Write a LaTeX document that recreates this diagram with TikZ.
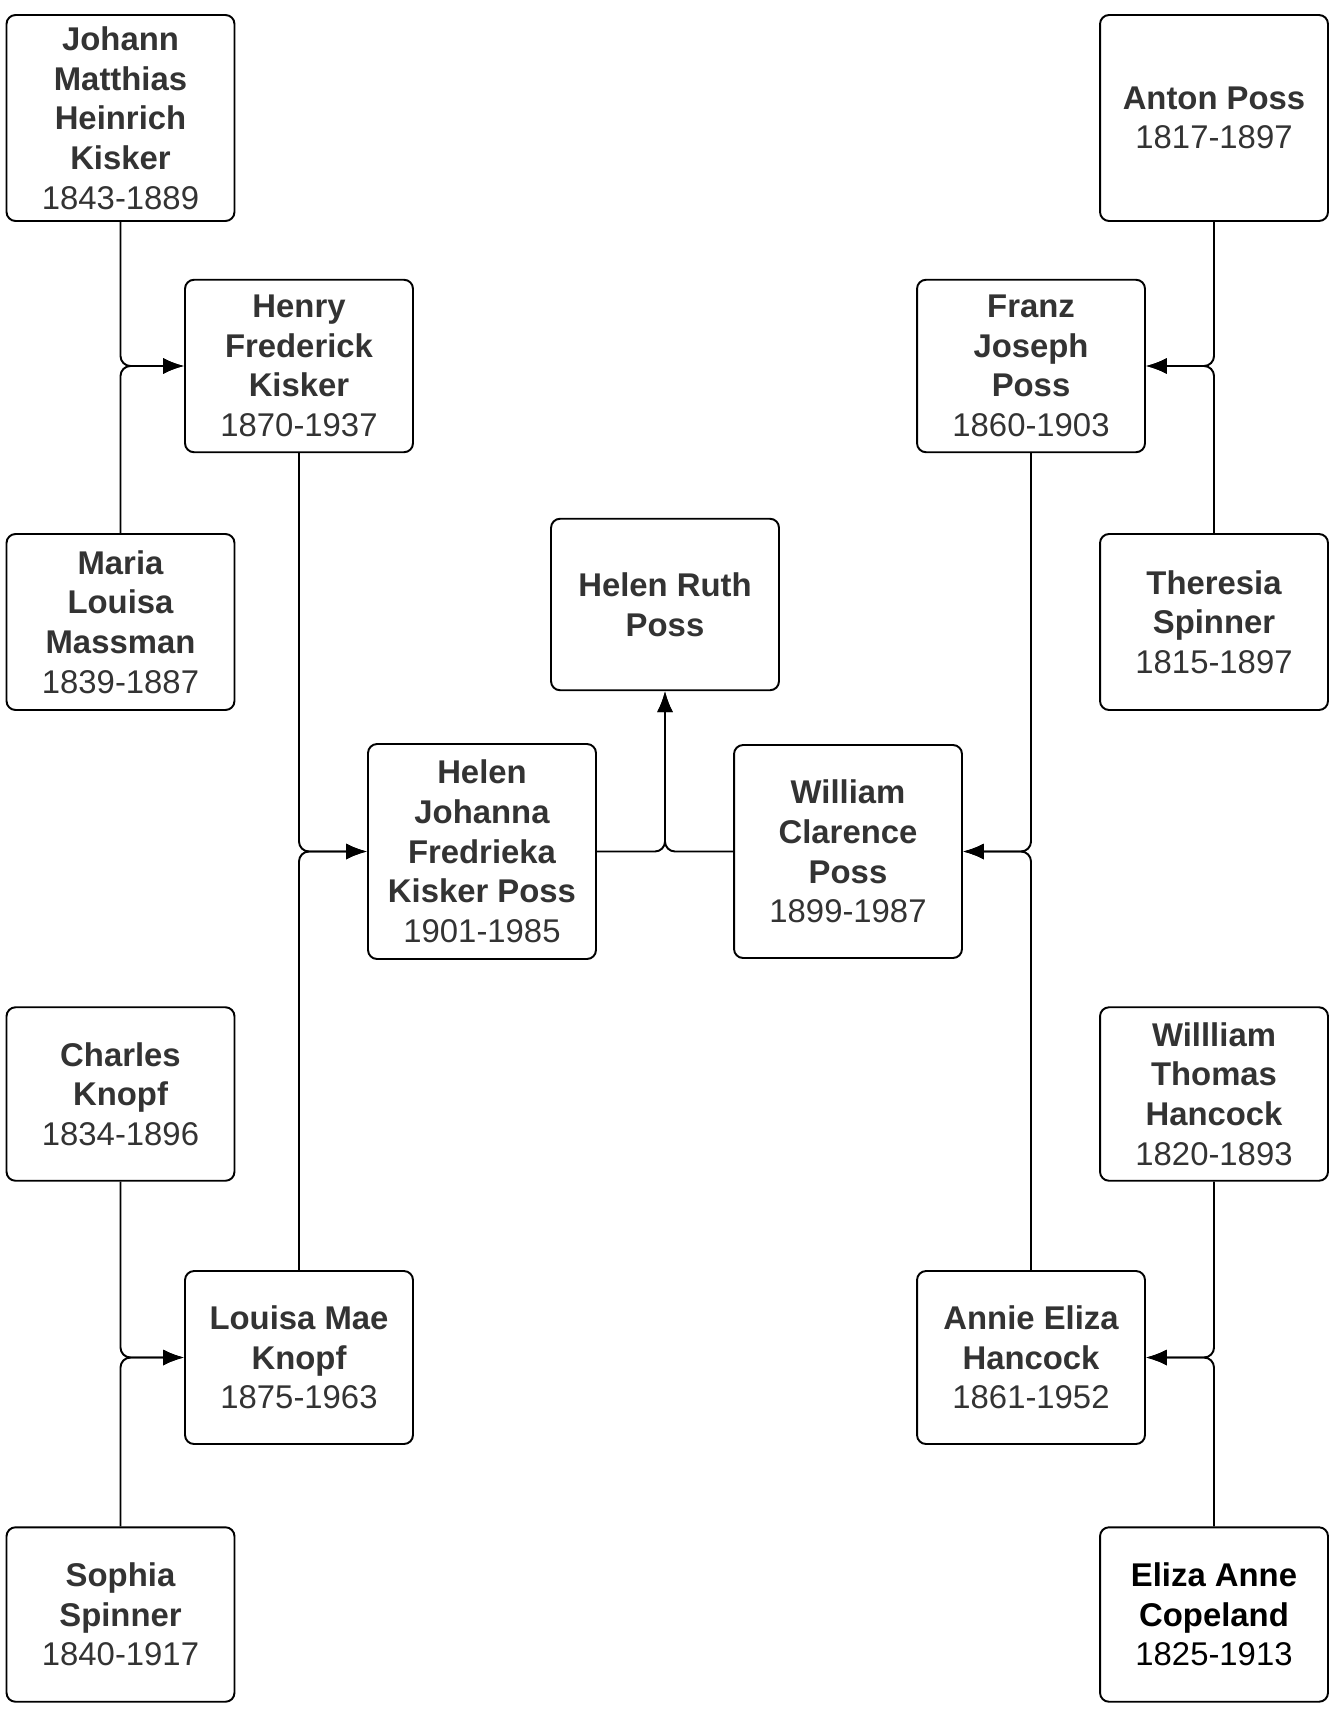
\documentclass[tikz,border=0pt]{standalone}
\usepackage{fontspec}
\setmainfont{Liberation Sans}
\usepackage{tikz}
\usetikzlibrary{arrows.meta}

\newcommand{\yrs}[1]{\\{\mdseries #1}}

\begin{document}
\begin{tikzpicture}[
  x=0.02cm, y=-0.02cm,
  person/.style={draw, line width=1.1pt, rounded corners=0.18cm,
    minimum width=4.56cm, inner sep=2pt, align=center,
    font=\fontsize{18.7}{22.6}\selectfont\bfseries, text=black!80},
  arr/.style={-{Latex[length=0.42cm, width=0.32cm]}, line width=1.1pt,
    rounded corners=0.2cm},
]
\useasboundingbox (0,0) rectangle (1335,1723);

% left side: Kisker and Knopf
\node[person, minimum height=4.12cm] (JK) at (120.5,118) {Johann\\Matthias\\Heinrich\\Kisker\yrs{1843-1889}};
\node[person, minimum height=3.45cm] (HK) at (299,366) {Henry\\Frederick\\Kisker\yrs{1870-1937}};
\node[person, minimum height=3.52cm] (MM) at (120.5,622) {Maria\\Louisa\\Massman\yrs{1839-1887}};
\node[person, minimum height=3.47cm] (CK) at (120.5,1094) {Charles\\Knopf\yrs{1834-1896}};
\node[person, minimum height=3.46cm] (LK) at (299,1357.5) {Louisa Mae\\Knopf\yrs{1875-1963}};
\node[person, minimum height=3.49cm] (SS) at (120.5,1614.5) {Sophia\\Spinner\yrs{1840-1917}};

% middle
\node[person, minimum height=3.43cm] (HR) at (665,604.5) {Helen Ruth\\Poss};
\node[person, minimum height=4.30cm] (HJ) at (482,851.5) {Helen\\Johanna\\Fredrieka\\Kisker Poss\yrs{1901-1985}};
\node[person, minimum height=4.26cm] (WP) at (848,851.5) {William\\Clarence\\Poss\yrs{1899-1987}};

% right side: Poss and Hancock
\node[person, minimum height=4.12cm] (AP) at (1214,118) {Anton Poss\yrs{1817-1897}};
\node[person, minimum height=3.45cm] (FP) at (1031,366) {Franz\\Joseph\\Poss\yrs{1860-1903}};
\node[person, minimum height=3.52cm] (TS) at (1214,622) {Theresia\\Spinner\yrs{1815-1897}};
\node[person, minimum height=3.47cm] (WH) at (1214,1094) {Willliam\\Thomas\\Hancock\yrs{1820-1893}};
\node[person, minimum height=3.46cm] (AH) at (1031,1357.5) {Annie Eliza\\Hancock\yrs{1861-1952}};
\node[person, minimum height=3.49cm, text=black] (EC) at (1214,1614.5) {Eliza Anne\\Copeland\yrs{1825-1913}};

\draw[arr] (JK.south) |- (HK.west);
\draw[arr] (MM.north) |- (HK.west);
\draw[arr] (CK.south) |- (LK.west);
\draw[arr] (SS.north) |- (LK.west);
\draw[arr] (HK.south) |- (HJ.west);
\draw[arr] (LK.north) |- (HJ.west);

\draw[arr] (AP.south) |- (FP.east);
\draw[arr] (TS.north) |- (FP.east);
\draw[arr] (WH.south) |- (AH.east);
\draw[arr] (EC.north) |- (AH.east);
\draw[arr] (FP.south) |- (WP.east);
\draw[arr] (AH.north) |- (WP.east);

\draw[arr] (HJ.east) -| (HR.south);
\draw[arr] (WP.west) -| (HR.south);
\end{tikzpicture}
\end{document}
